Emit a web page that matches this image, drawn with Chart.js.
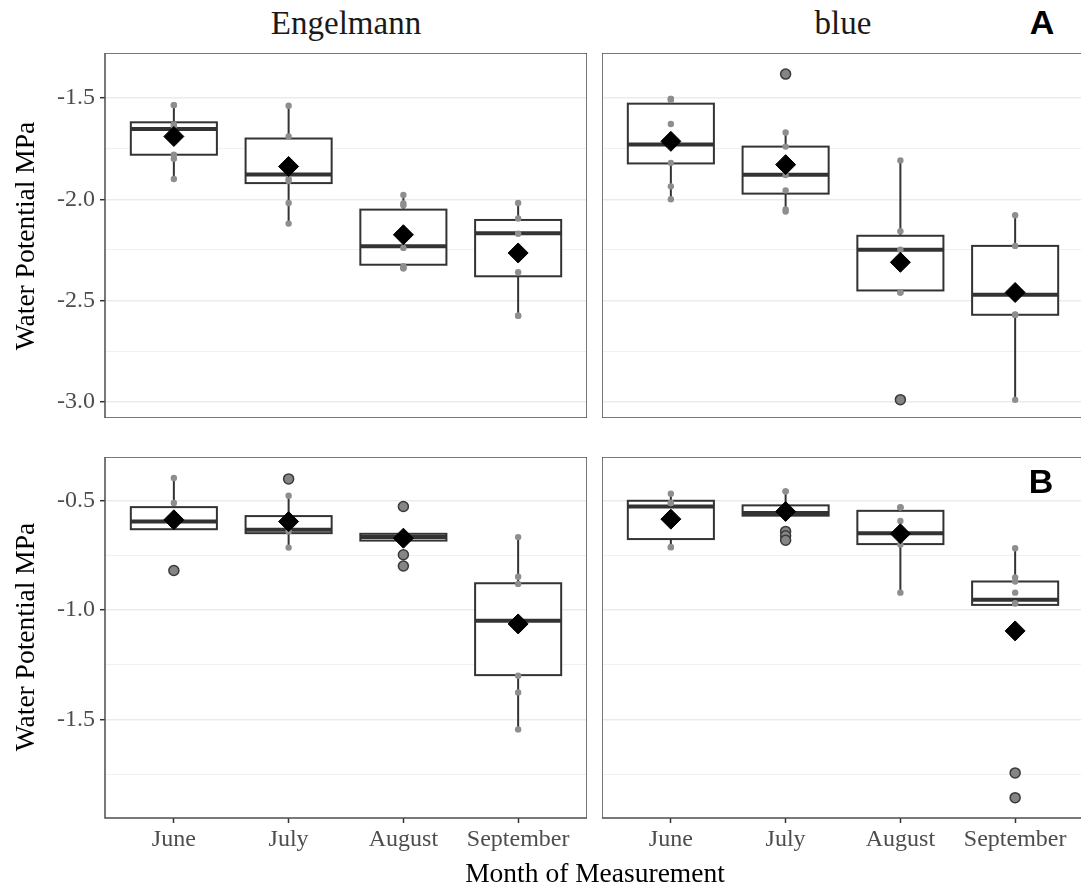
<!DOCTYPE html>
<html><head><meta charset="utf-8">
<script src="https://cdn.jsdelivr.net/npm/chart.js@4"></script>
<style>
html,body{margin:0;padding:0;background:#fff;width:1081px;height:888px;overflow:hidden;position:relative;}
canvas{position:absolute;display:block;}
.t{position:absolute;font-family:'Liberation Serif','Times New Roman',serif;white-space:nowrap;}
</style></head><body>
<canvas id="tl" width="547" height="365" style="left:40px;top:53px"></canvas>
<canvas id="tr" width="482" height="365" style="left:602px;top:53px"></canvas>
<canvas id="bl" width="547" height="405" style="left:40px;top:457px"></canvas>
<canvas id="br" width="482" height="405" style="left:602px;top:457px"></canvas>

<div class="t" style="left:346px;top:7px;font-size:33px;line-height:33px;color:#1a1a1a;transform:translateX(-50%)">Engelmann</div>
<div class="t" style="left:843px;top:7px;font-size:33px;line-height:33px;color:#1a1a1a;transform:translateX(-50%)">blue</div>
<div class="t" style="left:1042px;top:5px;font-family:'Liberation Sans',Arial,sans-serif;font-weight:bold;font-size:34px;line-height:34px;color:#000;transform:translateX(-50%)">A</div>
<div class="t" style="left:1041px;top:464px;font-family:'Liberation Sans',Arial,sans-serif;font-weight:bold;font-size:34px;line-height:34px;color:#000;transform:translateX(-50%)">B</div>
<div class="t" style="left:25px;top:236px;font-size:27.5px;line-height:27.5px;color:#000;transform:translate(-50%,-50%) rotate(-90deg)">Water Potential MPa</div>
<div class="t" style="left:25px;top:637px;font-size:27.5px;line-height:27.5px;color:#000;transform:translate(-50%,-50%) rotate(-90deg)">Water Potential MPa</div>
<div class="t" style="left:595px;top:859px;font-size:27.5px;line-height:27.5px;color:#000;transform:translateX(-50%)">Month of Measurement</div>

<script>
const months = ['June', 'July', 'August', 'September'];

// Y axis ticks
const yTicksA = [-1.5, -2.0, -2.5, -3.0];
const yLabelsA = ['-1.5', '-2.0', '-2.5', '-3.0'];
const yMinorA = [-1.75, -2.25, -2.75];
const yTicksB = [-0.5, -1.0, -1.5];
const yLabelsB = ['-0.5', '-1.0', '-1.5'];
const yMinorB = [-0.75, -1.25, -1.75];

// Panel A – Engelmann
const aEngLow  = [-1.90, -2.12, -2.339, -2.575];
const aEngQ1   = [-1.78, -1.92, -2.323, -2.38];
const aEngMed  = [-1.653, -1.877, -2.232, -2.168];
const aEngQ3   = [-1.62, -1.70, -2.051, -2.102];
const aEngHigh = [-1.535, -1.538, -1.979, -2.018];
const aEngMean = [-1.69, -1.838, -2.175, -2.265];
const aEngObs  = [[-1.535, -1.535, -1.63, -1.64, -1.78, -1.80, -1.90],
                  [-1.538, -1.69, -1.90, -1.91, -2.018, -2.12],
                  [-1.979, -2.02, -2.03, -2.24, -2.33, -2.34, -2.34],
                  [-2.018, -2.095, -2.17, -2.36, -2.575, -2.575]];
const aEngOut  = [[], [], [], []];

// Panel A – blue
const aBluLow  = [-2.002, -2.056, -2.461, -2.989];
const aBluQ1   = [-1.823, -1.972, -2.45, -2.57];
const aBluMed  = [-1.729, -1.879, -2.249, -2.471];
const aBluQ3   = [-1.528, -1.74, -2.18, -2.23];
const aBluHigh = [-1.505, -1.67, -1.808, -2.079];
const aBluMean = [-1.714, -1.829, -2.311, -2.46];
const aBluObs  = [[-1.505, -1.505, -1.51, -1.628, -1.73, -1.82, -1.936, -2.0],
                  [-1.67, -1.74, -1.88, -1.956, -2.05, -2.06],
                  [-1.808, -2.158, -2.249, -2.46, -2.46],
                  [-2.079, -2.23, -2.57, -2.57, -2.57, -2.99]];
const aBluOut  = [[], [-1.382], [-2.989], []];

// Panel B – Engelmann
const bEngLow  = [-0.63, -0.714, -0.682, -1.545];
const bEngQ1   = [-0.63, -0.648, -0.682, -1.297];
const bEngMed  = [-0.595, -0.633, -0.666, -1.048];
const bEngQ3   = [-0.529, -0.57, -0.651, -0.877];
const bEngHigh = [-0.396, -0.477, -0.651, -0.666];
const bEngMean = [-0.587, -0.595, -0.671, -1.063];
const bEngObs  = [[-0.396, -0.51, -0.595, -0.61, -0.614],
                  [-0.477, -0.57, -0.64, -0.714],
                  [-0.66, -0.67],
                  [-0.666, -0.847, -0.88, -1.30, -1.376, -1.545]];
const bEngOut  = [[-0.819], [-0.40], [-0.526, -0.747, -0.798], []];

// Panel B – blue
const bBluLow  = [-0.712, -0.568, -0.92, -0.976];
const bBluQ1   = [-0.675, -0.568, -0.698, -0.976];
const bBluMed  = [-0.526, -0.556, -0.648, -0.952];
const bBluQ3   = [-0.50, -0.521, -0.546, -0.869];
const bBluHigh = [-0.468, -0.457, -0.53, -0.717];
const bBluMean = [-0.584, -0.549, -0.651, -1.095];
const bBluObs  = [[-0.468, -0.51, -0.51, -0.712, -0.712],
                  [-0.457, -0.457, -0.53],
                  [-0.53, -0.53, -0.53, -0.592, -0.70, -0.92],
                  [-0.717, -0.85, -0.869, -0.92, -0.968, -0.97]];
const bBluOut  = [[], [-0.64, -0.66, -0.68], [], [-1.744, -1.857]];

const FONT = "'Liberation Serif', 'Times New Roman', serif";

function makePanel(id, d) {
  const boxPlugin = {
    id: 'boxes_' + id,
    beforeDatasetsDraw(chart) {
      const {ctx, scales: {x, y}} = chart;
      ctx.save();
      for (let i = 0; i < d.med.length; i++) {
        const cx = x.getPixelForValue(i);
        const hw = x.getPixelForValue(i + 0.375) - cx;
        const pLo = y.getPixelForValue(d.low[i]);
        const pQ1 = y.getPixelForValue(d.q1[i]);
        const pMed = y.getPixelForValue(d.med[i]);
        const pQ3 = y.getPixelForValue(d.q3[i]);
        const pHi = y.getPixelForValue(d.high[i]);
        ctx.strokeStyle = '#333333';
        ctx.lineWidth = 2;
        ctx.beginPath();
        ctx.moveTo(cx, pQ3); ctx.lineTo(cx, pHi);
        ctx.moveTo(cx, pQ1); ctx.lineTo(cx, pLo);
        ctx.stroke();
        ctx.fillStyle = '#ffffff';
        ctx.fillRect(cx - hw, pQ3, 2 * hw, pQ1 - pQ3);
        ctx.strokeRect(cx - hw, pQ3, 2 * hw, pQ1 - pQ3);
        ctx.lineWidth = 4;
        ctx.beginPath();
        ctx.moveTo(cx - hw, pMed); ctx.lineTo(cx + hw, pMed);
        ctx.stroke();
      }
      ctx.restore();
    },
    afterDraw(chart) {
      const {ctx, chartArea: a} = chart;
      ctx.save();
      ctx.strokeStyle = '#4d4d4d';
      ctx.lineWidth = 1.5;
      ctx.strokeRect(a.left, a.top, a.right - a.left, a.bottom - a.top);
      ctx.restore();
    }
  };
  const isMinor = v => d.minor.some(m => Math.abs(m - v) < 1e-6);
  const allTicks = d.ticks.concat(d.minor).sort((p, q) => q - p);
  new Chart(document.getElementById(id), {
    type: 'scatter',
    data: {
      datasets: [
        {label: 'mean', data: d.mean.map((v, i) => ({x: i, y: v})), pointStyle: 'rectRot',
         radius: 10, backgroundColor: '#000', borderColor: '#000', borderWidth: 1, order: 0},
        {label: 'obs', data: d.obs.flatMap((arr, i) => arr.map(v => ({x: i, y: v}))),
         radius: 3.2, backgroundColor: '#8e8e8e', borderWidth: 0, order: 1},
        {label: 'out', data: d.out.flatMap((arr, i) => arr.map(v => ({x: i, y: v}))),
         radius: 5, backgroundColor: '#858585', borderColor: '#3a3a3a', borderWidth: 1.5, order: 2}
      ]
    },
    options: {
      responsive: false, animation: false, events: [],
      layout: {padding: 0, autoPadding: false},
      plugins: {legend: {display: false}, tooltip: {enabled: false}},
      scales: {
        x: {
          type: 'linear', min: -0.6, max: 3.6, display: d.showX,
          afterBuildTicks: s => { s.ticks = months.map((m, i) => ({value: i})); },
          ticks: {callback: v => months[Math.round(v)], font: {family: FONT, size: 24}, color: '#4d4d4d',
                  padding: 2, maxRotation: 0, minRotation: 0, autoSkip: false},
          grid: {drawOnChartArea: false, drawTicks: true, tickLength: 5, tickColor: '#333', tickWidth: 1.5},
          border: {display: false},
          afterFit: s => { s.height = d.showX ? 44 : 0; s.paddingLeft = 0; s.paddingRight = 0; }
        },
        y: {
          type: 'linear', min: d.yMin, max: d.yMax,
          afterBuildTicks: s => { s.ticks = allTicks.map(v => ({value: v})); },
          ticks: {display: d.showY, autoSkip: false, padding: 5, color: '#4d4d4d', font: {family: FONT, size: 24},
                  callback: v => { const k = d.ticks.findIndex(t => Math.abs(t - v) < 1e-6); return k >= 0 ? d.labels[k] : ''; }},
          grid: {
            color: c => (c.tick && isMinor(c.tick.value)) ? '#f0f0f0' : '#ebebeb',
            lineWidth: c => (c.tick && isMinor(c.tick.value)) ? 1 : 1.4,
            drawTicks: d.showY, tickLength: 5, tickWidth: 1.5,
            tickColor: c => (c.tick && isMinor(c.tick.value)) ? 'rgba(0,0,0,0)' : '#333'
          },
          border: {display: false},
          afterFit: s => { s.width = d.showY ? 65 : 0; s.paddingTop = 0; s.paddingBottom = 0; }
        }
      }
    },
    plugins: [boxPlugin]
  });
}

const rangeA = {yMin: -3.0795, yMax: -1.2779, ticks: yTicksA, labels: yLabelsA, minor: yMinorA};
const rangeB = {yMin: -1.9501, yMax: -0.2999, ticks: yTicksB, labels: yLabelsB, minor: yMinorB};

makePanel('tl', Object.assign({}, rangeA, {showY: true, showX: false,
  low: aEngLow, q1: aEngQ1, med: aEngMed, q3: aEngQ3, high: aEngHigh, mean: aEngMean, obs: aEngObs, out: aEngOut}));
makePanel('tr', Object.assign({}, rangeA, {showY: false, showX: false,
  low: aBluLow, q1: aBluQ1, med: aBluMed, q3: aBluQ3, high: aBluHigh, mean: aBluMean, obs: aBluObs, out: aBluOut}));
makePanel('bl', Object.assign({}, rangeB, {showY: true, showX: true,
  low: bEngLow, q1: bEngQ1, med: bEngMed, q3: bEngQ3, high: bEngHigh, mean: bEngMean, obs: bEngObs, out: bEngOut}));
makePanel('br', Object.assign({}, rangeB, {showY: false, showX: true,
  low: bBluLow, q1: bBluQ1, med: bBluMed, q3: bBluQ3, high: bBluHigh, mean: bBluMean, obs: bBluObs, out: bBluOut}));
</script>
</body></html>
